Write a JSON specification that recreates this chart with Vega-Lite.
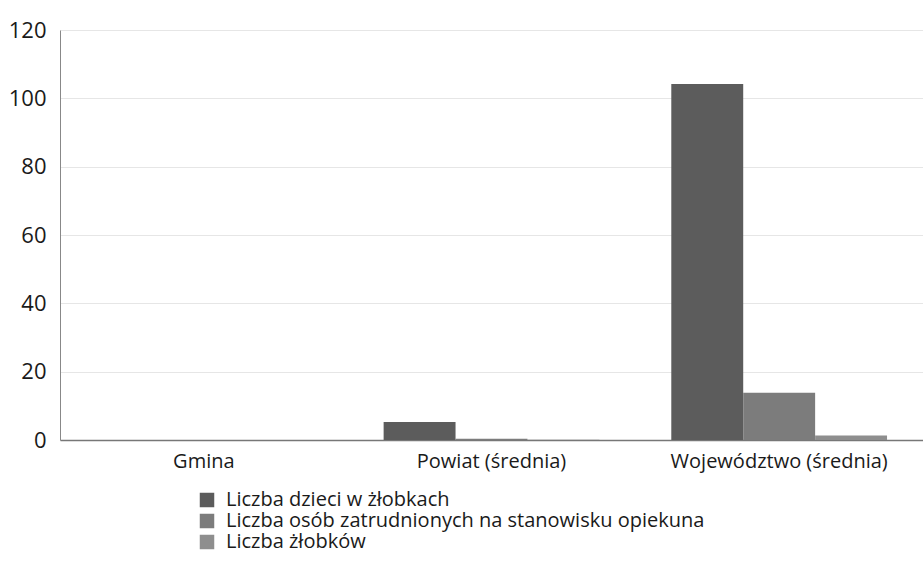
{
  "$schema": "https://vega.github.io/schema/vega-lite/v6.json",
  "autosize": "none",
  "width": 863,
  "height": 410,
  "padding": {"left": 60, "top": 30, "right": 0, "bottom": 122},
  "background": "white",
  "config": {
    "font": "Open Sans",
    "view": {"stroke": null}
  },
  "data": {
    "values": [
      {"jednostka": "Gmina", "seria": "Liczba dzieci w żłobkach", "wartosc": 0},
      {"jednostka": "Gmina", "seria": "Liczba osób zatrudnionych na stanowisku opiekuna", "wartosc": 0},
      {"jednostka": "Gmina", "seria": "Liczba żłobków", "wartosc": 0},
      {"jednostka": "Powiat (średnia)", "seria": "Liczba dzieci w żłobkach", "wartosc": 5.3},
      {"jednostka": "Powiat (średnia)", "seria": "Liczba osób zatrudnionych na stanowisku opiekuna", "wartosc": 0.4},
      {"jednostka": "Powiat (średnia)", "seria": "Liczba żłobków", "wartosc": 0.1},
      {"jednostka": "Województwo (średnia)", "seria": "Liczba dzieci w żłobkach", "wartosc": 104.2},
      {"jednostka": "Województwo (średnia)", "seria": "Liczba osób zatrudnionych na stanowisku opiekuna", "wartosc": 13.8},
      {"jednostka": "Województwo (średnia)", "seria": "Liczba żłobków", "wartosc": 1.3}
    ]
  },
  "mark": {"type": "bar"},
  "encoding": {
    "x": {
      "field": "jednostka",
      "type": "nominal",
      "sort": null,
      "scale": {"paddingInner": 0.25, "paddingOuter": 0.125},
      "axis": {
        "title": null,
        "labelAngle": 0,
        "labelFontSize": 20,
        "labelLimit": 400,
        "labelColor": "#1a1a1a",
        "labelPadding": 11,
        "ticks": false,
        "domainColor": "#777777",
        "domainWidth": 1.5
      }
    },
    "xOffset": {"field": "seria", "type": "nominal", "sort": null, "scale": {"paddingInner": 0, "paddingOuter": 0}},
    "y": {
      "field": "wartosc",
      "type": "quantitative",
      "scale": {"domain": [0, 120]},
      "axis": {
        "title": null,
        "values": [0, 20, 40, 60, 80, 100, 120],
        "labelFontSize": 22,
        "labelColor": "#1a1a1a",
        "labelPadding": 14,
        "ticks": false,
        "domainColor": "#888888",
        "gridColor": "#e6e6e6"
      }
    },
    "color": {
      "field": "seria",
      "type": "nominal",
      "sort": null,
      "scale": {
        "domain": ["Liczba dzieci w żłobkach", "Liczba osób zatrudnionych na stanowisku opiekuna", "Liczba żłobków"],
        "range": ["#5c5c5c", "#7c7c7c", "#8e8e8e"]
      },
      "legend": {
        "title": null,
        "orient": "none",
        "legendX": 137,
        "legendY": 460,
        "symbolType": "square",
        "symbolSize": 210,
        "labelFontSize": 20,
        "labelColor": "#1a1a1a",
        "rowPadding": 1,
        "labelOffset": 9,
        "labelLimit": 700
      }
    }
  }
}
